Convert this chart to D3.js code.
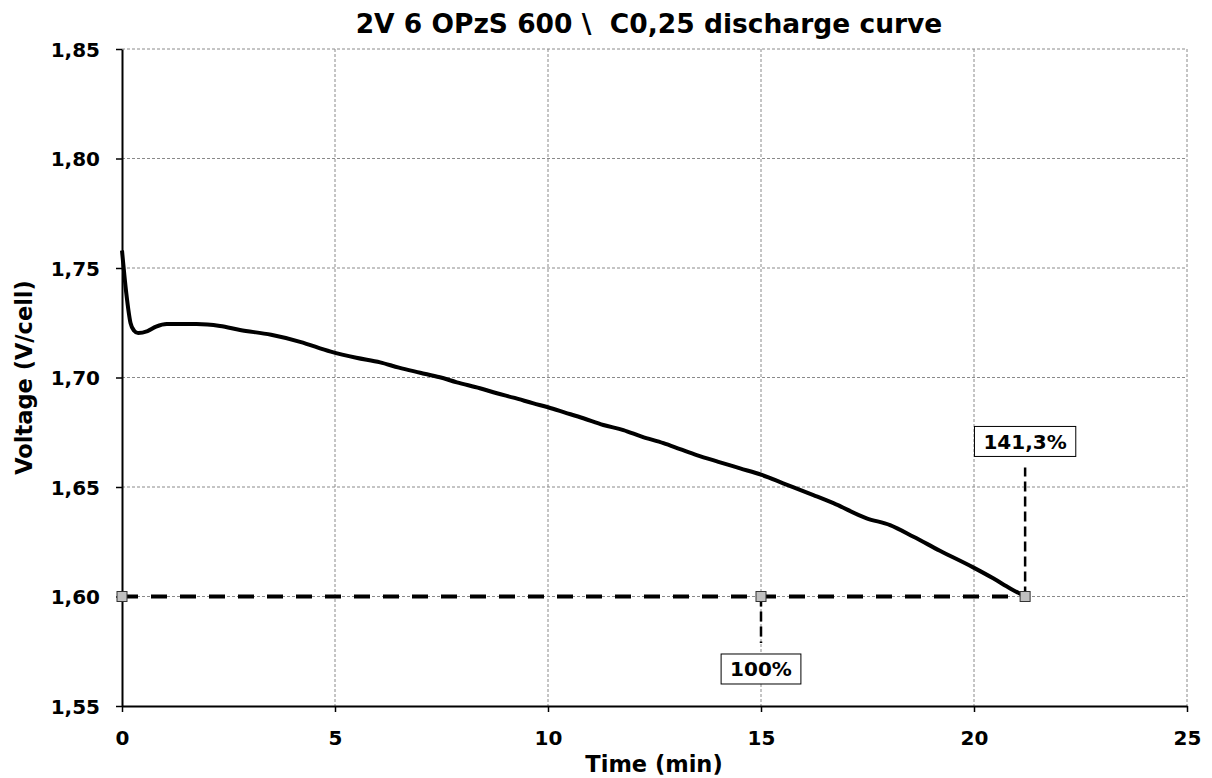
<!DOCTYPE html>
<html><head><meta charset="utf-8">
<script src="https://cdn.jsdelivr.net/npm/d3@7"></script>
<style>body{margin:0;background:#fff;font-family:"DejaVu Sans",Verdana,sans-serif;}</style>
</head><body>
<svg id="c" width="1212" height="778"></svg>
<script>
const title = "2V 6 OPzS 600 \\  C0,25 discharge curve";
const xLabel = "Time (min)";
const yLabel = "Voltage (V/cell)";
const xTicks = [0, 5, 10, 15, 20, 25];
const yTicks = [1.55, 1.60, 1.65, 1.70, 1.75, 1.80, 1.85];
const curveTime = [0, 0.1, 0.2, 0.28, 0.38, 0.6, 0.8, 1.05, 1.75, 2.3, 2.77, 3.5, 4.18, 4.9, 5.5, 6.06, 6.5, 7.0, 7.46, 7.86, 8.4, 8.8, 9.19, 9.66, 10.0, 10.4, 10.83, 11.3, 11.77, 12.2, 12.71, 13.1, 13.49, 14.0, 14.51, 15.02, 15.52, 16.23, 16.7, 17.48, 18.03, 18.58, 19.2, 19.98, 20.45, 20.85, 21.2];
const curveVolt = [1.758, 1.7386, 1.7249, 1.7215, 1.7203, 1.7212, 1.7232, 1.7244, 1.7244, 1.7235, 1.7217, 1.7195, 1.7163, 1.7118, 1.709, 1.7069, 1.7045, 1.7022, 1.7001, 1.6978, 1.6951, 1.6928, 1.6908, 1.6882, 1.6864, 1.684, 1.6814, 1.6783, 1.676, 1.673, 1.670, 1.6673, 1.6646, 1.6615, 1.6585, 1.6555, 1.6517, 1.6463, 1.6426, 1.6357, 1.6326, 1.6273, 1.6209, 1.6133, 1.6083, 1.6037, 1.600];
const markerTime = [0, 15, 21.2];
const markerVolt = [1.60, 1.60, 1.60];
const labelText = ["100%", "141,3%"];
const labelTime = [15, 21.2];
const labelVolt = [1.5669, 1.6708];

const FONT = "DejaVu Sans, Verdana, sans-serif";
const svg = d3.select("#c");
const m = {l:122, r:1187, t:49, b:706};
const x = d3.scaleLinear().domain([0,25]).range([m.l, m.r]);
const y = d3.scaleLinear().domain([1.55,1.85]).range([m.b, m.t]);
const fmt = d => d3.format(".2f")(d).replace(".", ",");

// grid
svg.append("g").selectAll("line").data(xTicks.slice(1)).join("line")
  .attr("x1", d=>x(d)).attr("x2", d=>x(d)).attr("y1", m.t).attr("y2", m.b)
  .attr("stroke", "#8a8a8a").attr("stroke-width", 1).attr("stroke-dasharray", "3,2");
svg.append("g").selectAll("line").data(yTicks.slice(1)).join("line")
  .attr("x1", m.l).attr("x2", m.r).attr("y1", d=>y(d)).attr("y2", d=>y(d))
  .attr("stroke", "#8a8a8a").attr("stroke-width", 1).attr("stroke-dasharray", "3,2");

// axes
const xa = svg.append("g").attr("transform", `translate(0,${m.b})`)
  .call(d3.axisBottom(x).tickValues(xTicks).tickSize(6).tickSizeOuter(0).tickFormat(d3.format("d")));
const ya = svg.append("g").attr("transform", `translate(${m.l},0)`)
  .call(d3.axisLeft(y).tickValues(yTicks).tickSize(6).tickSizeOuter(0).tickFormat(fmt));
[xa, ya].forEach(a => {
  a.select(".domain").attr("stroke", "#000").attr("stroke-width", 2);
  a.selectAll(".tick line").attr("stroke", "#000").attr("stroke-width", 1.5);
  a.selectAll("text").attr("font-family", FONT)
    .attr("font-weight", "bold").attr("font-size", 20).attr("fill", "#000");
});
xa.selectAll("text").attr("y", 39).attr("dy", 0);
ya.selectAll("text").attr("x", -22).attr("dy", "0.36em");

// 1.60 dashed line
svg.append("line").attr("x1", x(markerTime[0])).attr("x2", x(markerTime[2]))
  .attr("y1", y(1.60)).attr("y2", y(1.60))
  .attr("stroke", "#000").attr("stroke-width", 4).attr("stroke-dasharray", "16,13");

// vertical dashed connectors
labelTime.forEach((t,i) => {
  svg.append("line").attr("x1", x(t)).attr("x2", x(t))
    .attr("y1", y(markerVolt[i+1])).attr("y2", y(labelVolt[i]) + (i===0 ? -26 : 26))
    .attr("stroke", "#000").attr("stroke-width", 2.5).attr("stroke-dasharray", "10,5");
});

// curve
svg.append("path").datum(curveTime.map((t,i)=>[t, curveVolt[i]]))
  .attr("d", d3.line().x(d=>x(d[0])).y(d=>y(d[1])).curve(d3.curveMonotoneX))
  .attr("fill", "none").attr("stroke", "#000").attr("stroke-width", 4).attr("stroke-linejoin", "round");

// markers
svg.append("g").selectAll("rect").data(markerTime).join("rect")
  .attr("x", (d)=>x(d)-5).attr("y", (d,i)=>y(markerVolt[i])-5).attr("width", 10).attr("height", 10)
  .attr("fill", "#c0c0c0").attr("stroke", "#333").attr("stroke-width", 1);

// labels
labelText.forEach((s,i) => {
  const g = svg.append("g");
  const t = g.append("text").attr("x", x(labelTime[i])).attr("y", y(labelVolt[i]))
    .attr("text-anchor", "middle").attr("dy", "0.36em")
    .attr("font-family", FONT).attr("font-weight", "bold")
    .attr("font-size", 20).text(s);
  const bb = t.node().getBBox();
  g.insert("rect", "text").attr("x", bb.x-9).attr("y", y(labelVolt[i])-15).attr("width", bb.width+18).attr("height", 30)
    .attr("fill", "#fff").attr("stroke", "#000").attr("stroke-width", 1);
});

// title & axis labels
svg.append("text").attr("x", 649).attr("y", 33).attr("text-anchor", "middle")
  .attr("font-family", FONT).attr("font-weight", "bold").attr("font-size", 26.5)
  .style("white-space", "pre").text(title);
svg.append("text").attr("x", 654).attr("y", 772).attr("text-anchor", "middle")
  .attr("font-family", FONT).attr("font-weight", "bold").attr("font-size", 22.5).text(xLabel);
svg.append("text").attr("transform", `translate(32,${(m.t+m.b)/2}) rotate(-90)`).attr("text-anchor", "middle")
  .attr("font-family", FONT).attr("font-weight", "bold").attr("font-size", 22.5).text(yLabel);
</script>
</body></html>
